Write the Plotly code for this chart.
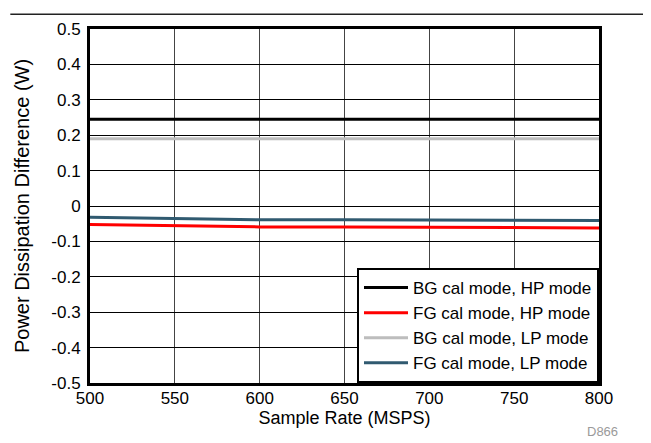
import plotly.graph_objects as go

sample_rate = [500, 550, 600, 650, 700, 750, 800]
bg_hp = [0.245, 0.245, 0.245, 0.245, 0.245, 0.245, 0.245]
fg_hp = [-0.052, -0.056, -0.059, -0.059, -0.060, -0.061, -0.062]
bg_lp = [0.19, 0.19, 0.19, 0.19, 0.19, 0.19, 0.19]
fg_lp = [-0.032, -0.036, -0.039, -0.039, -0.039, -0.040, -0.041]

series = [
    ("BG cal mode, HP mode", bg_hp, "#000000"),
    ("FG cal mode, HP mode", fg_hp, "#ff0000"),
    ("BG cal mode, LP mode", bg_lp, "#bdbdbd"),
    ("FG cal mode, LP mode", fg_lp, "#305a70"),
]

y_ticks = [-0.5, -0.4, -0.3, -0.2, -0.1, 0, 0.1, 0.2, 0.3, 0.4, 0.5]
y_tick_text = ["-0.5", "-0.4", "-0.3", "-0.2", "-0.1", "0", "0.1", "0.2", "0.3", "0.4", "0.5"]
x_ticks = [500, 550, 600, 650, 700, 750, 800]

fig = go.Figure()
for name, vals, color in series:
    fig.add_trace(go.Scatter(x=sample_rate, y=vals, mode="lines", name=name,
                             line=dict(color=color, width=3)))

font = "Liberation Sans, Arial, sans-serif"
# page body has an 8px margin; figure sized so the plot area lands where the reference has it
W, H = 643, 435
L, T = 80, 16
pw, ph = 511, 359
R, B = W - L - pw, H - T - ph

fig.update_layout(
    width=W, height=H,
    margin=dict(l=L, r=R, t=T, b=B),
    paper_bgcolor="white", plot_bgcolor="white",
    font=dict(family=font, size=17, color="#000"),
    showlegend=True,
    legend=dict(x=1, y=0, xanchor="right", yanchor="bottom",
                bordercolor="#000", borderwidth=2, bgcolor="white",
                font=dict(size=17, family=font), tracegroupgap=0,
                itemwidth=44),
    xaxis=dict(range=[500, 800], tickvals=x_ticks, showgrid=True,
               gridcolor="#444", gridwidth=1, zeroline=False,
               showline=True, linecolor="#000", linewidth=3, mirror=True,
               ticks="", tickfont=dict(size=17), ticklabelstandoff=-2,
               title=dict(text="Sample Rate (MSPS)", font=dict(size=18), standoff=0)),
    yaxis=dict(range=[-0.5, 0.5], tickvals=y_ticks, ticktext=y_tick_text,
               showgrid=True, gridcolor="#000", gridwidth=1, zeroline=False,
               showline=True, linecolor="#000", linewidth=3, mirror=True,
               ticks="", tickfont=dict(size=17), ticklabelstandoff=3,
               title=dict(text="Power Dissipation Difference (W)", font=dict(size=20), standoff=17)),
    shapes=[dict(type="line", xref="paper", yref="paper",
                 x0=-L / pw, x1=(W - L) / pw,
                 y0=1 + (T - 1) / ph, y1=1 + (T - 1) / ph,
                 line=dict(color="#222", width=1.5))],
    annotations=[dict(text="D866", xref="paper", yref="paper",
                      x=(W - 31 - L) / pw, y=-(H - 11 - (T + ph)) / ph,
                      xanchor="right", yanchor="middle", showarrow=False,
                      font=dict(size=13, color="#9a9a9a", family=font))],
)

fig.write_html("out.html")
